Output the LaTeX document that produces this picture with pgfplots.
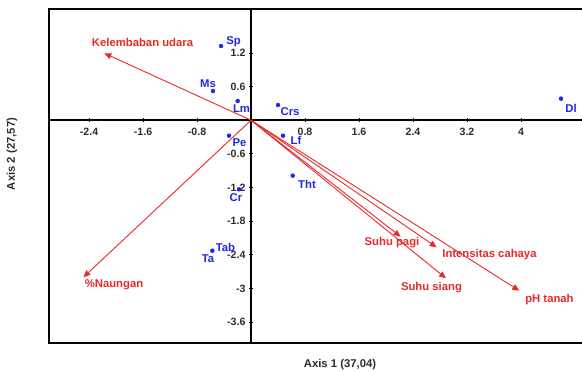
\documentclass[border=0pt]{standalone}
\usepackage{fontspec}
\setmainfont{Liberation Sans}
\usepackage{pgfplots}
\pgfplotsset{compat=1.18}
\usetikzlibrary{arrows.meta}
\definecolor{vred}{RGB}{234,40,40}
\definecolor{pblue}{RGB}{30,40,225}
\definecolor{tickgray}{RGB}{45,45,45}
\newcommand{\lbl}{\fontsize{11.3}{13}\selectfont\bfseries}
\begin{document}
\begin{tikzpicture}
\begin{axis}[name=ax, scale only axis, width=533pt, height=334pt,
  xmin=-2.993, xmax=4.904, ymin=-3.975, ymax=1.985,
  axis lines=middle, axis line style={-, line width=1.6pt, black},
  xtick={-2.4,-1.6,-0.8,0.8,1.6,2.4,3.2,4},
  ytick={1.2,0.6,-0.6,-1.2,-1.8,-2.4,-3,-3.6},
  tick style={black, line width=0.8pt}, major tick length=4pt,
  tick label style={font=\fontsize{10.6}{12}\selectfont\bfseries, text=tickgray},
  xticklabel style={yshift=-2pt},
  /pgf/number format/assume math mode=true,
  clip=false,
]
\draw[line width=1.6pt] (rel axis cs:1,1) -- (rel axis cs:0,1) -- (rel axis cs:0,0) -- (rel axis cs:1,0);
% variable vectors
\pgfplotsset{vec/.style={vred, line width=0.9pt, -{Triangle[length=7pt,width=6pt]}}}
\addplot[vec] coordinates {(0,0) (-2.173,1.195)};
\addplot[vec] coordinates {(0,0) (-2.484,-2.802)};
\addplot[vec] coordinates {(0,0) (2.218,-2.078)};
\addplot[vec] coordinates {(0,0) (2.751,-2.267)};
\addplot[vec] coordinates {(0,0) (2.889,-2.820)};
\addplot[vec] coordinates {(0,0) (3.975,-3.042)};
% sites
\addplot[only marks, mark=*, mark size=2pt, pblue] table {
x y
-0.444 1.325
-0.563 0.522
-0.197 0.343
0.400 0.272
-0.326 -0.276
0.474 -0.276
0.618 -0.989
-0.178 -1.232
-0.573 -2.328
4.593 0.385
};
\node[font=\lbl, text=pblue] at (axis cs:-0.259,1.396) {Sp};
\node[font=\lbl, text=pblue] at (axis cs:-0.637,0.656) {Ms};
\node[font=\lbl, text=pblue] at (axis cs:-0.141,0.201) {Lm};
\node[font=\lbl, text=pblue] at (axis cs:0.578,0.147) {Crs};
\node[font=\lbl, text=pblue] at (axis cs:-0.170,-0.406) {Pe};
\node[font=\lbl, text=pblue] at (axis cs:0.667,-0.352) {Lf};
\node[font=\lbl, text=pblue] at (axis cs:0.830,-1.137) {Tht};
\node[font=\lbl, text=pblue] at (axis cs:-0.222,-1.378) {Cr};
\node[font=\lbl, text=pblue] at (axis cs:-0.378,-2.262) {Tab};
\node[font=\lbl, text=pblue] at (axis cs:-0.637,-2.476) {Ta};
\node[font=\lbl, text=pblue] at (axis cs:4.741,0.219) {Dl};
\node[font=\lbl, text=vred] at (axis cs:-1.607,1.387) {Kelembaban udara};
\node[font=\lbl, text=vred] at (axis cs:-2.030,-2.940) {\%Naungan};
\node[font=\lbl, text=vred] at (axis cs:2.089,-2.190) {Suhu pagi};
\node[font=\lbl, text=vred] at (axis cs:3.533,-2.405) {Intensitas cahaya};
\node[font=\lbl, text=vred] at (axis cs:2.674,-2.993) {Suhu siang};
\node[font=\lbl, text=vred] at (axis cs:4.422,-3.207) {pH tanah};
\node[font=\lbl, text=tickgray] at (axis cs:1.319,-4.367) {Axis 1 (37,04)};
\node[font=\lbl, text=tickgray, rotate=90] at (axis cs:-3.541,-0.602) {Axis 2 (27,57)};
\end{axis}
\pgfresetboundingbox
\path[use as bounding box] ([shift={(-49pt,-28pt)}]ax.south west) rectangle ([shift={(0pt,9pt)}]ax.north east);
\end{tikzpicture}
\end{document}
